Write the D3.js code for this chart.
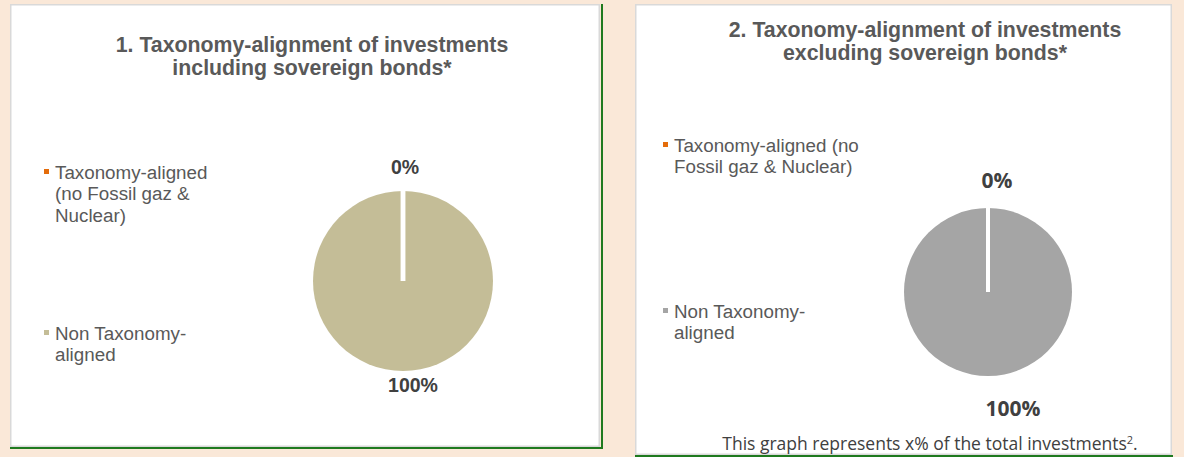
<!DOCTYPE html>
<html>
<head>
<meta charset="utf-8">
<script src="https://cdn.jsdelivr.net/npm/d3@7/dist/d3.min.js"></script>
<style>
  html, body { margin: 0; padding: 0; background: #FAE8D8; }
  svg { display: block; }
</style>
</head>
<body>
<svg id="chart" width="1184" height="457"></svg>
<script>
// Categories shown in both pies
const categories = ["Taxonomy-aligned (no Fossil gaz & Nuclear)", "Non Taxonomy-aligned"];
// Share of investments (%) per category
const inclSovereignValues = [0, 100];
const exclSovereignValues = [0, 100];
// Chart titles (two lines each)
const titleIncl = ["1. Taxonomy-alignment of investments", "including sovereign bonds*"];
const titleExcl = ["2. Taxonomy-alignment of investments", "excluding sovereign bonds*"];
// Legend label wrapping per chart
const legendLinesIncl = [["Taxonomy-aligned", "(no Fossil gaz &", "Nuclear)"], ["Non Taxonomy-", "aligned"]];
const legendLinesExcl = [["Taxonomy-aligned (no", "Fossil gaz & Nuclear)"], ["Non Taxonomy-", "aligned"]];
const footnote = "This graph represents x% of the total investments";

const svg = d3.select("#chart");

const panels = [
  {
    values: inclSovereignValues, title: titleIncl, legend: legendLinesIncl,
    box: { x: 10, y: 4, w: 590, h: 443 }, greenRight: true,
    colors: ["#E46C0A", "#C4BD97"],
    titleX: 312, titleY: 52,
    legendX: 44, legendY: [172, 333],
    cx: 403, cy: 281, r: 90, sepWidth: 4.5,
    labelFont: "Liberation Sans, Arial, sans-serif", labelSize: 19.5,
    labelPos: [{ dx: 2, dy: -114 }, { dx: 10, dy: 104 }]
  },
  {
    values: exclSovereignValues, title: titleExcl, legend: legendLinesExcl,
    box: { x: 635, y: 4, w: 537, h: 451 }, greenRight: false,
    colors: ["#E46C0A", "#A5A5A5"],
    titleX: 925, titleY: 37,
    legendX: 663, legendY: [145, 311],
    cx: 988, cy: 292, r: 84, sepWidth: 4,
    labelFont: "Open Sans, Liberation Sans, sans-serif", labelSize: 21,
    labelPos: [{ dx: 9, dy: -111 }, { dx: 25, dy: 117 }]
  }
];

const pie = d3.pie().sort(null).value(d => d);

panels.forEach((p) => {
  const g = svg.append("g");
  const b = p.box;

  // Green edge lines under/right of the panel
  g.append("rect").attr("x", b.x).attr("y", b.y + b.h).attr("width", b.w + (p.greenRight ? 3 : 1)).attr("height", 2)
    .attr("fill", "#1F7A1F");
  if (p.greenRight) {
    g.append("rect").attr("x", b.x + b.w + 1).attr("y", b.y).attr("width", 2).attr("height", b.h + 2)
      .attr("fill", "#1F7A1F");
  }
  // Panel with light gray border
  g.append("rect").attr("x", b.x + 0.75).attr("y", b.y + 0.75).attr("width", b.w - 1.5).attr("height", b.h - 1.5)
    .attr("fill", "#FFFFFF").attr("stroke", "#D9D9D9").attr("stroke-width", 1.5);

  // Title
  const title = g.append("text").attr("text-anchor", "middle")
    .attr("font-family", "Liberation Sans, Arial, sans-serif").attr("font-weight", "bold")
    .attr("font-size", 21.3).attr("fill", "#595959");
  p.title.forEach((line, i) => {
    title.append("tspan").attr("x", p.titleX).attr("y", p.titleY + i * 23).text(line);
  });

  // Legend
  p.legend.forEach((lines, ci) => {
    const y0 = p.legendY[ci];
    g.append("rect").attr("x", p.legendX).attr("y", y0 - 3).attr("width", 5).attr("height", 5)
      .attr("fill", p.colors[ci]);
    const t = g.append("text").attr("font-family", "Liberation Sans, Arial, sans-serif")
      .attr("font-size", 18.8).attr("fill", "#595959");
    lines.forEach((line, li) => {
      t.append("tspan").attr("x", p.legendX + 11).attr("y", y0 + 6.5 + li * 21.5).text(line);
    });
  });

  // Pie slices
  const arcs = pie(p.values);
  const arc = d3.arc().innerRadius(0).outerRadius(p.r);
  const pg = g.append("g").attr("transform", `translate(${p.cx},${p.cy})`);
  pg.selectAll("path").data(arcs).join("path")
    .attr("d", arc)
    .attr("fill", (d, i) => p.colors[i]);

  // White slice borders along each slice's radial edge
  pg.selectAll("line.sep").data(arcs).join("line")
    .attr("class", "sep")
    .attr("x1", 0).attr("y1", 0)
    .attr("x2", d => Math.sin(d.startAngle) * (p.r + 1))
    .attr("y2", d => -Math.cos(d.startAngle) * (p.r + 1))
    .attr("stroke", "#FFFFFF").attr("stroke-width", p.sepWidth);

  // Value labels
  pg.selectAll("text.val").data(arcs).join("text")
    .attr("class", "val")
    .attr("x", (d, i) => p.labelPos[i].dx)
    .attr("y", (d, i) => p.labelPos[i].dy)
    .attr("dy", "0.35em")
    .attr("text-anchor", "middle")
    .attr("font-family", p.labelFont).attr("font-weight", "bold")
    .attr("font-size", p.labelSize).attr("fill", "#404040")
    .text(d => d.data + "%");
});

// Footnote under the second chart
const fn = svg.append("text").attr("x", 930).attr("y", 450).attr("text-anchor", "middle")
  .attr("font-family", "Open Sans, Liberation Sans, sans-serif").attr("font-size", 17.5).attr("fill", "#404040");
fn.append("tspan").text(footnote);
fn.append("tspan").attr("font-size", 11).attr("dy", -6).text("2");
fn.append("tspan").attr("dy", 6).text(".");
</script>
</body>
</html>
